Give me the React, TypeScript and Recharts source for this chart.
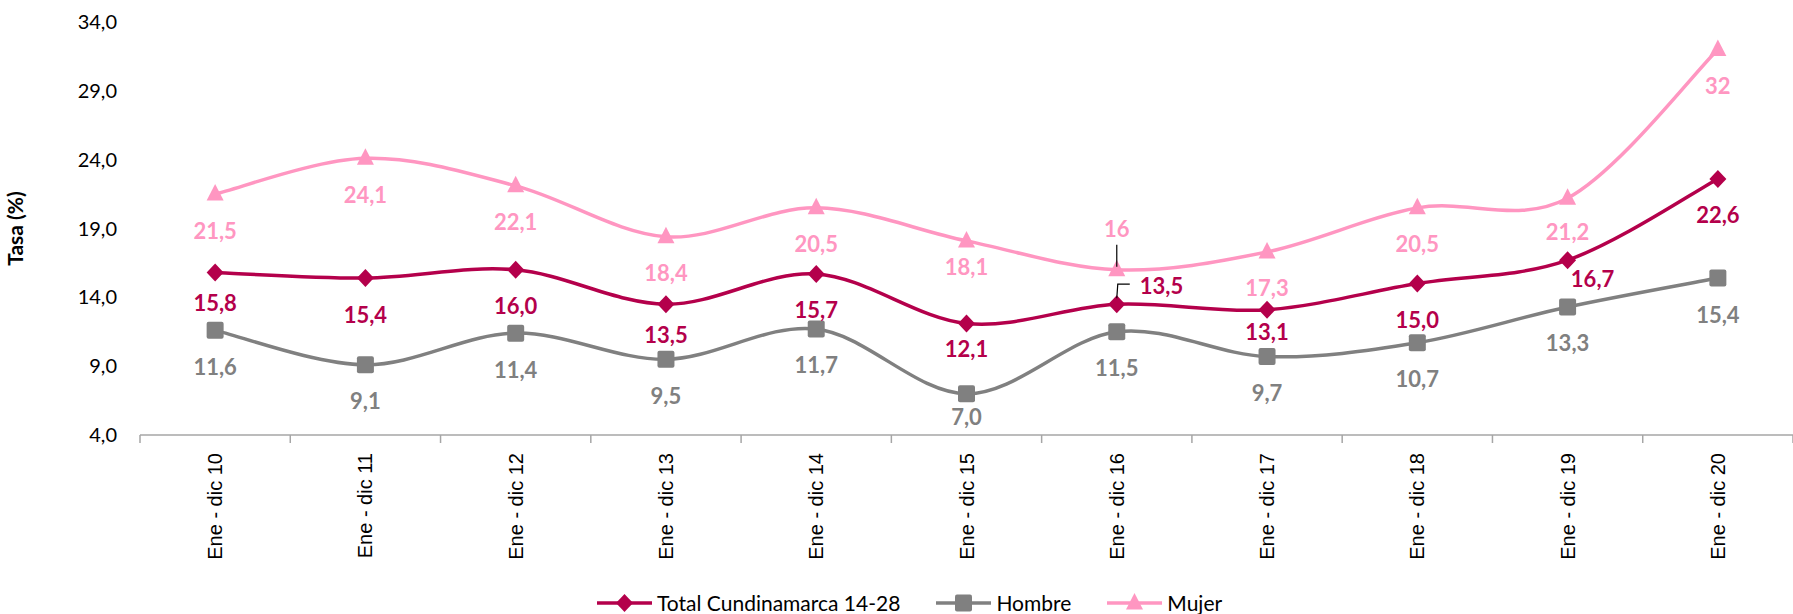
import React from 'react';
import { LineChart, Line, XAxis, YAxis, Legend } from 'recharts';

const CATEGORIES = ['Ene - dic 10', 'Ene - dic 11', 'Ene - dic 12', 'Ene - dic 13', 'Ene - dic 14', 'Ene - dic 15', 'Ene - dic 16', 'Ene - dic 17', 'Ene - dic 18', 'Ene - dic 19', 'Ene - dic 20'];
const TOTAL = [15.8, 15.4, 16.0, 13.5, 15.7, 12.1, 13.5, 13.1, 15.0, 16.7, 22.6];
const HOMBRE = [11.6, 9.1, 11.4, 9.5, 11.7, 7.0, 11.5, 9.7, 10.7, 13.3, 15.4];
const MUJER = [21.5, 24.1, 22.1, 18.4, 20.5, 18.1, 16, 17.3, 20.5, 21.2, 32];
const Y_TICKS = [4, 9, 14, 19, 24, 29, 34];
const SERIES_NAMES = ['Total Cundinamarca 14-28', 'Hombre', 'Mujer'];

const W = 1793;
const H = 614;
const PLOT_LEFT = 140;
const HALF_BAND = (W - PLOT_LEFT) / CATEGORIES.length / 2;
const FONT = 'Lato, "Open Sans", sans-serif';
const C_TOTAL = '#B4004B';
const C_HOMBRE = '#808080';
const C_MUJER = '#FF96C1';

// label nudges (layout only): [dx, dy] relative to default placement below the point
const DEFAULT_DY = 36;
const NUDGE: Record<string, Record<number, [number, number]>> = {
  total: { 0: [0, -6], 3: [0, -6], 5: [0, -11], 7: [0, -14], 9: [25, -18] },
  hombre: { 5: [0, -13] },
  mujer: { 5: [0, -10], 9: [0, -3] },
};

const data = CATEGORIES.map((c, i) => ({ cat: c, total: TOTAL[i], hombre: HOMBRE[i], mujer: MUJER[i] }));

const fmt1 = (v: number) => v.toFixed(1).replace('.', ',');
const fmtGeneral = (v: number) => (Number.isInteger(v) ? String(v) : fmt1(v));

// Excel-like smoothed line (Catmull-Rom as cubic Bezier)
function excelCurve(context: any) {
  let pts: number[][] = [];
  return {
    areaStart() {},
    areaEnd() {},
    lineStart() {
      pts = [];
    },
    point(x: number, y: number) {
      pts.push([+x, +y]);
    },
    lineEnd() {
      const n = pts.length;
      if (!n) return;
      context.moveTo(pts[0][0], pts[0][1]);
      for (let i = 0; i < n - 1; i++) {
        const p0 = pts[Math.max(0, i - 1)];
        const p1 = pts[i];
        const p2 = pts[i + 1];
        const p3 = pts[Math.min(n - 1, i + 2)];
        context.bezierCurveTo(
          p1[0] + (p2[0] - p0[0]) / 6,
          p1[1] + (p2[1] - p0[1]) / 6,
          p2[0] - (p3[0] - p1[0]) / 6,
          p2[1] - (p3[1] - p1[1]) / 6,
          p2[0],
          p2[1]
        );
      }
    },
  };
}

const Diamond = ({ cx, cy, color }: any) => (
  <path d={`M${cx},${cy - 9} L${cx + 8.5},${cy} L${cx},${cy + 9} L${cx - 8.5},${cy} Z`} fill={color} />
);
const Square = ({ cx, cy, color }: any) => (
  <rect x={cx - 8.5} y={cy - 8.5} width={17} height={17} rx={2} fill={color} />
);
const Triangle = ({ cx, cy, color }: any) => (
  <path d={`M${cx},${cy - 10} L${cx + 8.5},${cy + 6.5} L${cx - 8.5},${cy + 6.5} Z`} fill={color} />
);

const makeDot = (Shape: any, color: string) => (props: any) => {
  const { cx, cy, index } = props;
  if (cx == null || cy == null) return <g key={`d-${index}`} />;
  return (
    <g key={`d-${color}-${index}`}>
      <Shape cx={cx} cy={cy} color={color} />
    </g>
  );
};

const makeLabel = (series: string, color: string, formatter: (v: number) => string) => (props: any) => {
  const { x, y, value, index } = props;
  if (x == null || y == null) return null;
  const text = formatter(Number(value));
  const common = {
    fill: color,
    fontFamily: FONT,
    fontWeight: 700,
    fontSize: 22,
    textAnchor: 'middle' as const,
    dominantBaseline: 'central' as const,
  };
  if (series === 'mujer' && index === 6) {
    return (
      <g key={`l-${series}-${index}`}>
        <line x1={x} y1={y - 25} x2={x} y2={y - 3} stroke="#000" strokeWidth={1.2} />
        <text x={x} y={y - 41} {...common}>{text}</text>
      </g>
    );
  }
  if (series === 'total' && index === 6) {
    return (
      <g key={`l-${series}-${index}`}>
        <polyline points={`${x},${y - 6} ${x + 1},${y - 20} ${x + 13},${y - 20}`} fill="none" stroke="#000" strokeWidth={1.2} />
        <text x={x + 23} y={y - 19} {...common} textAnchor="start">{text}</text>
      </g>
    );
  }
  const nudge = (NUDGE[series] && NUDGE[series][index]) || [0, 0];
  return (
    <text key={`l-${series}-${index}`} x={x + nudge[0]} y={y + DEFAULT_DY + nudge[1]} {...common}>
      {text}
    </text>
  );
};

const XTick = (props: any) => {
  const { x, y, payload, index } = props;
  const half = HALF_BAND;
  return (
    <g>
      <line x1={x - half} y1={y} x2={x - half} y2={y + 8} stroke="#A6A6A6" strokeWidth={1.5} />
      {index === CATEGORIES.length - 1 && (
        <line x1={x + half} y1={y} x2={x + half} y2={y + 8} stroke="#A6A6A6" strokeWidth={1.5} />
      )}
      <text
        x={x}
        y={y + 18}
        transform={`rotate(-90, ${x}, ${y + 18})`}
        textAnchor="end"
        dominantBaseline="central"
        fontFamily='"Liberation Sans", Arial, sans-serif'
        fontSize={20}
        fill="#000"
      >
        {payload.value}
      </text>
    </g>
  );
};

const LegendMarker = ({ Shape, color }: any) => (
  <svg width={55} height={22} style={{ display: 'block' }}>
    <line x1={0} y1={11} x2={55} y2={11} stroke={color} strokeWidth={3.5} />
    <Shape cx={27.5} cy={11} color={color} />
  </svg>
);

const LegendContent = () => {
  const items = [
    { name: SERIES_NAMES[0], color: C_TOTAL, Shape: Diamond },
    { name: SERIES_NAMES[1], color: C_HOMBRE, Shape: Square },
    { name: SERIES_NAMES[2], color: C_MUJER, Shape: Triangle },
  ];
  return (
    <div style={{ height: 39, display: 'flex', alignItems: 'center', paddingLeft: 597, paddingTop: 16, boxSizing: 'border-box' }}>
      {items.map((it) => (
        <div key={it.name} style={{ display: 'flex', alignItems: 'center', marginRight: 36 }}>
          <LegendMarker Shape={it.Shape} color={it.color} />
          <span style={{ fontFamily: FONT, fontSize: 21, color: '#000', marginLeft: 5, lineHeight: '22px' }}>{it.name}</span>
        </div>
      ))}
    </div>
  );
};

export default function App() {
  return (
    <div style={{ position: 'absolute', left: 0, top: 0, width: W, height: H, background: '#fff', overflow: 'hidden' }}>
      <LineChart width={W} height={H} data={data} margin={{ top: 22, right: 0, left: 0, bottom: 0 }}>
        <XAxis
          dataKey="cat"
          height={140}
          interval={0}
          padding={{ left: HALF_BAND, right: HALF_BAND }}
          tickLine={false}
          tickSize={0}
          tickMargin={0}
          axisLine={{ stroke: '#A6A6A6', strokeWidth: 1.5 }}
          tick={<XTick />}
        />
        <YAxis
          width={PLOT_LEFT}
          domain={[4, 34]}
          ticks={Y_TICKS}
          axisLine={false}
          tickLine={false}
          tickSize={0}
          tickMargin={23}
          tickFormatter={(v: number) => fmt1(v)}
          tick={{ fontSize: 20, fill: '#000', fontFamily: FONT }}
          label={{
            value: 'Tasa (%)',
            angle: -90,
            position: 'insideLeft',
            offset: 16,
            style: { fontFamily: FONT, fontWeight: 700, fontSize: 21, fill: '#000', textAnchor: 'middle' },
          }}
        />
        <Legend verticalAlign="bottom" content={<LegendContent />} wrapperStyle={{ left: 0, bottom: 0, width: W }} />
        <Line
          dataKey="mujer"
          name={SERIES_NAMES[2]}
          type={excelCurve as any}
          stroke={C_MUJER}
          strokeWidth={3.5}
          dot={makeDot(Triangle, C_MUJER)}
          activeDot={false}
          label={makeLabel('mujer', C_MUJER, fmtGeneral)}
          isAnimationActive={false}
        />
        <Line
          dataKey="hombre"
          name={SERIES_NAMES[1]}
          type={excelCurve as any}
          stroke={C_HOMBRE}
          strokeWidth={3.5}
          dot={makeDot(Square, C_HOMBRE)}
          activeDot={false}
          label={makeLabel('hombre', C_HOMBRE, fmt1)}
          isAnimationActive={false}
        />
        <Line
          dataKey="total"
          name={SERIES_NAMES[0]}
          type={excelCurve as any}
          stroke={C_TOTAL}
          strokeWidth={3.5}
          dot={makeDot(Diamond, C_TOTAL)}
          activeDot={false}
          label={makeLabel('total', C_TOTAL, fmt1)}
          isAnimationActive={false}
        />
      </LineChart>
    </div>
  );
}
